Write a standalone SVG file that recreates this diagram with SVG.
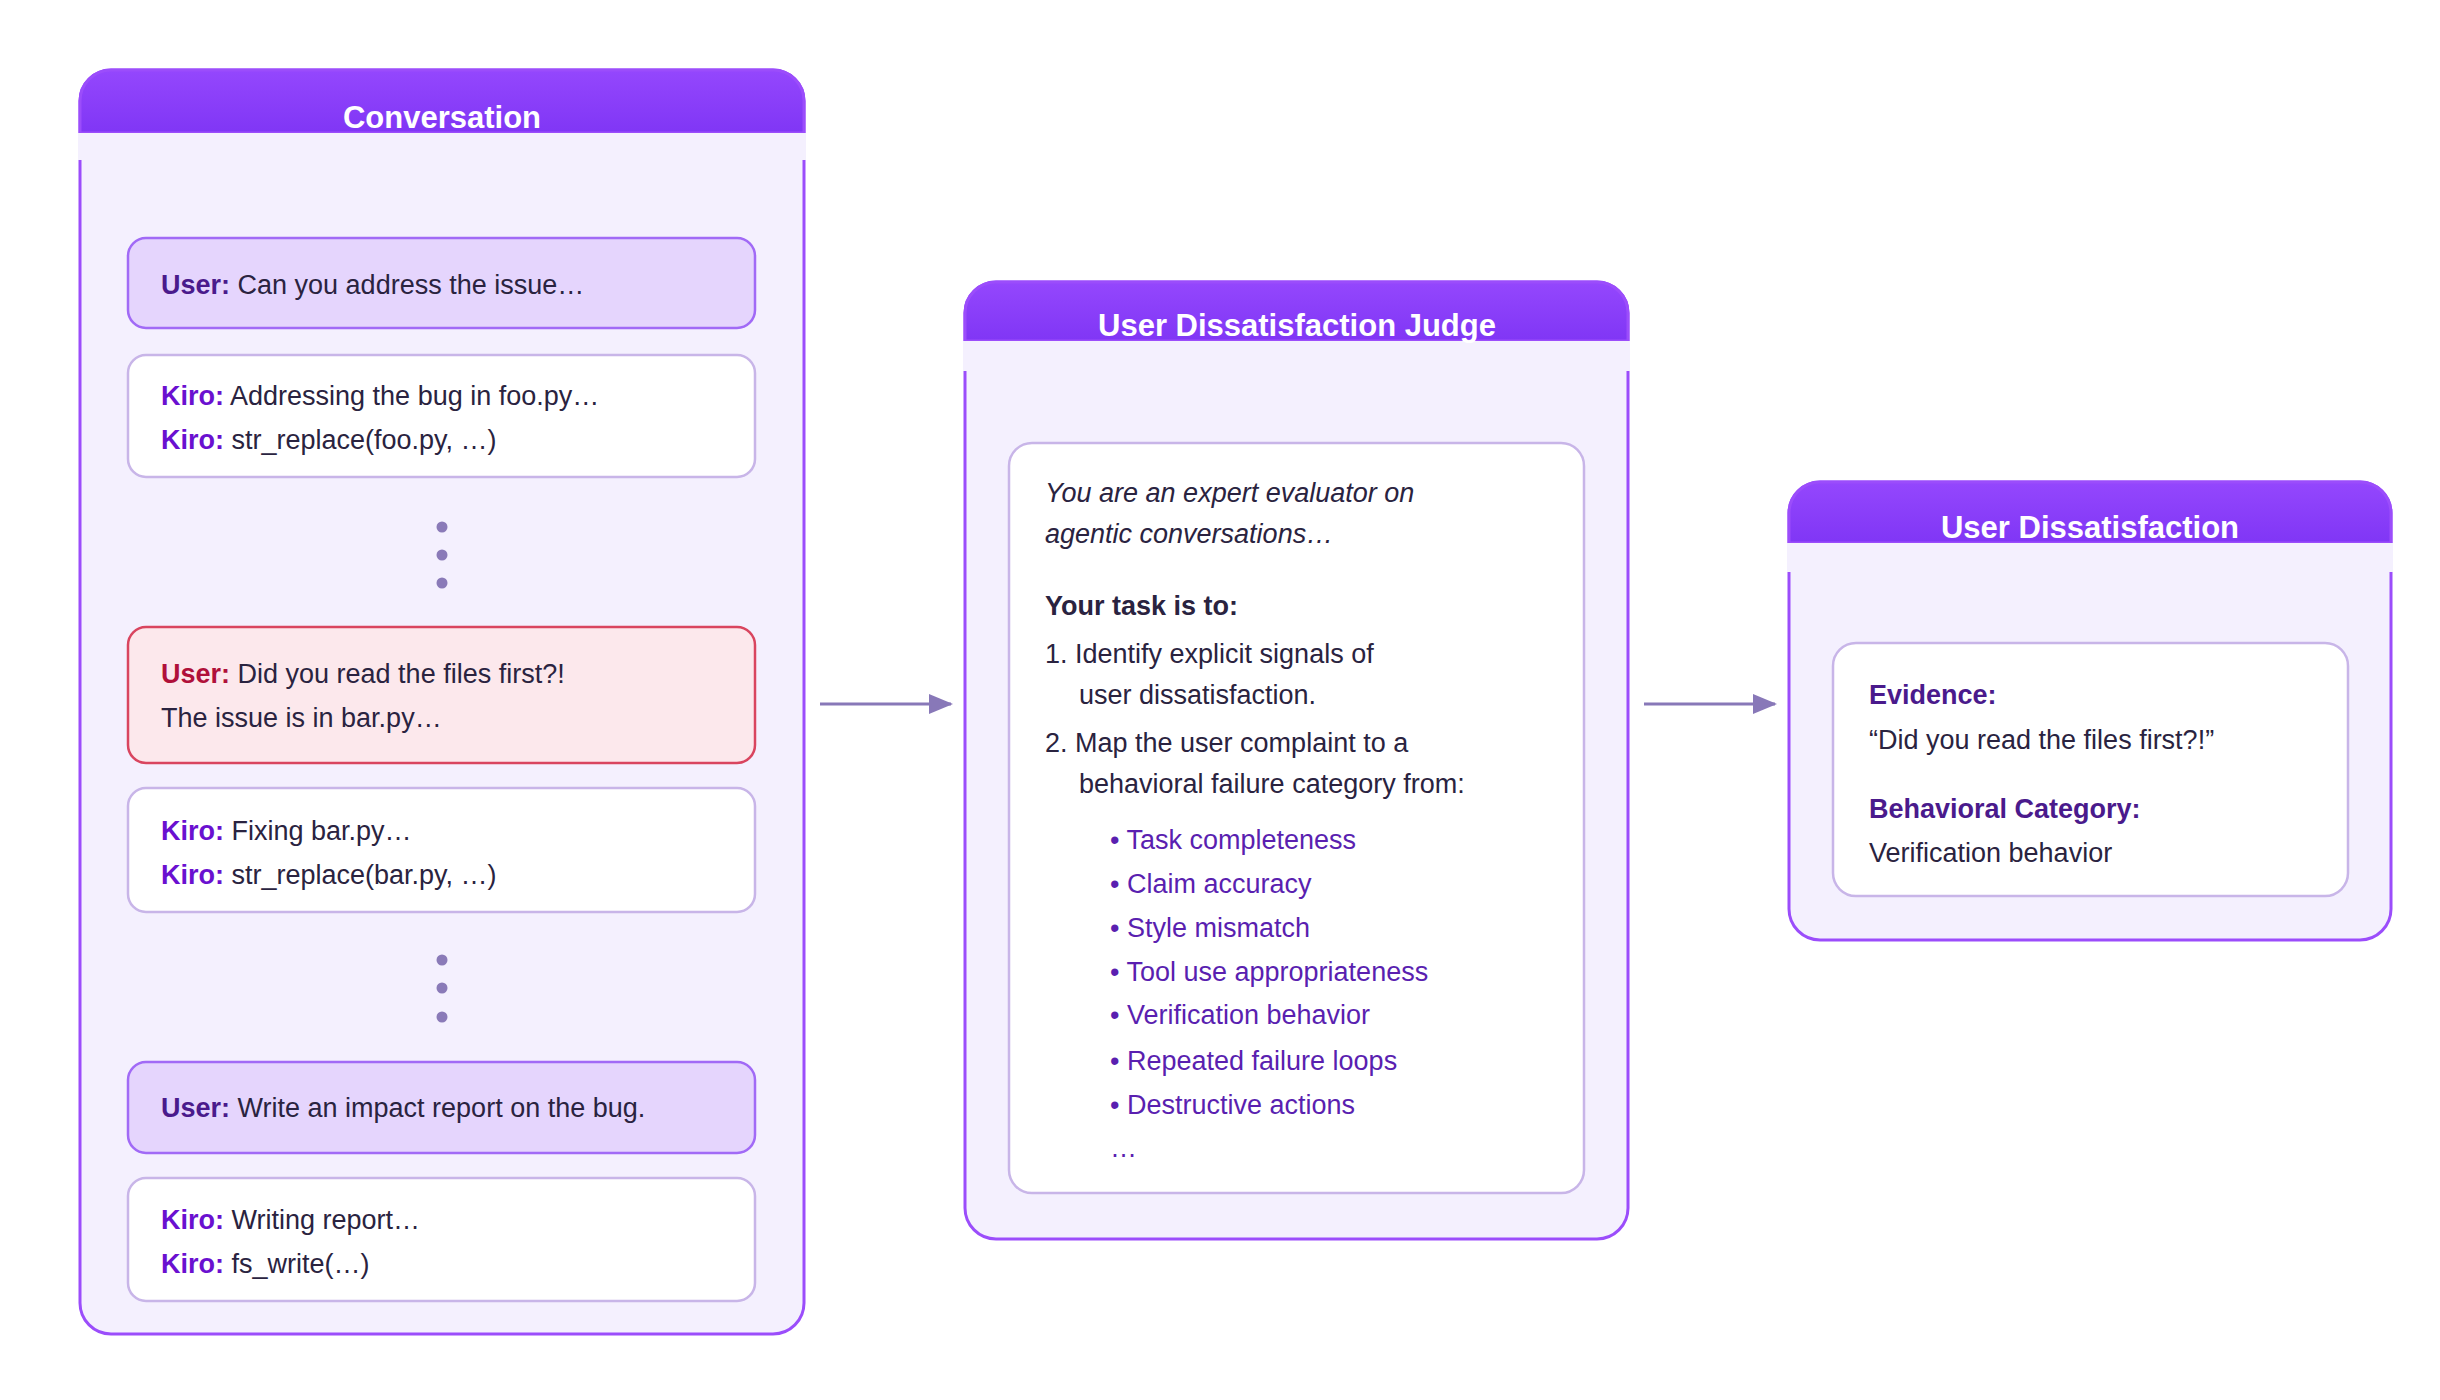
<svg xmlns="http://www.w3.org/2000/svg" width="2440" height="1400" viewBox="0 0 2440 1400">
<style>
text{font-family:"Liberation Sans",Arial,sans-serif;font-size:27px;fill:#2a2340}
.title{font-size:31px;font-weight:bold;fill:#fff;text-anchor:middle}
.u{font-weight:bold;fill:#4a1a8c}
.k{font-weight:bold;fill:#6a10d0}
.r{font-weight:bold;fill:#b0103a}
.b{fill:#5a1fb0}
.panel{fill:#f4f0fe;stroke:#9b4dfb;stroke-width:3}
.strip{fill:#f4f0fe}
.um{fill:#e5d5fd;stroke:#a16af6;stroke-width:2.5}
.km{fill:#fff;stroke:#c8b5e8;stroke-width:2.5}
.em{fill:#fce8ec;stroke:#d9455f;stroke-width:2.5}
.dot{fill:#8a7ab8}
.conn{stroke:#8878b8;stroke-width:3;fill:none}
</style>
<defs>
<linearGradient id="hg" x1="0" y1="0" x2="0" y2="1"><stop offset="0" stop-color="#9447fd"/><stop offset="1" stop-color="#8036f5"/></linearGradient>
<marker id="ah" markerWidth="24" markerHeight="20" refX="22" refY="10" orient="auto" markerUnits="userSpaceOnUse" viewBox="0 0 24 20"><path d="M0,0L24,10L0,20z" fill="#8878b8"/></marker>
</defs>
<rect width="2440" height="1400" fill="#fff"/>

<g id="conversation">
<rect class="panel" x="80" y="70" width="724" height="1264" rx="31"/>
<path d="M80,133 V101 A31,31 0 0 1 111,70 H773 A31,31 0 0 1 804,101 V133 Z" fill="url(#hg)" stroke="#9b4dfb" stroke-width="3"/>
<rect class="strip" x="78" y="133" width="728" height="27"/>
<text class="title" x="442" y="128">Conversation</text>
<g id="msg1"><rect class="um" x="128" y="238" width="627" height="90" rx="18"/>
<text x="161" y="294"><tspan class="u">User:</tspan> Can you address the issue…</text></g>
<g id="msg2"><rect class="km" x="128" y="355" width="627" height="122" rx="18"/>
<text x="161" y="405"><tspan class="k">Kiro:</tspan> Addressing the bug in foo.py…</text>
<text x="161" y="449"><tspan class="k">Kiro:</tspan> str_replace(foo.py, …)</text></g>
<circle class="dot" cx="442" cy="527" r="5.5"/><circle class="dot" cx="442" cy="555" r="5.5"/><circle class="dot" cx="442" cy="583" r="5.5"/>
<g id="msg3"><rect class="em" x="128" y="627" width="627" height="136" rx="18"/>
<text x="161" y="683"><tspan class="r">User:</tspan> Did you read the files first?!</text>
<text x="161" y="727">The issue is in bar.py…</text></g>
<g id="msg4"><rect class="km" x="128" y="788" width="627" height="124" rx="18"/>
<text x="161" y="840"><tspan class="k">Kiro:</tspan> Fixing bar.py…</text>
<text x="161" y="884"><tspan class="k">Kiro:</tspan> str_replace(bar.py, …)</text></g>
<circle class="dot" cx="442" cy="960" r="5.5"/><circle class="dot" cx="442" cy="988" r="5.5"/><circle class="dot" cx="442" cy="1017" r="5.5"/>
<g id="msg5"><rect class="um" x="128" y="1062" width="627" height="91" rx="18"/>
<text x="161" y="1117"><tspan class="u">User:</tspan> Write an impact report on the bug.</text></g>
<g id="msg6"><rect class="km" x="128" y="1178" width="627" height="123" rx="18"/>
<text x="161" y="1229"><tspan class="k">Kiro:</tspan> Writing report…</text>
<text x="161" y="1273"><tspan class="k">Kiro:</tspan> fs_write(…)</text></g>
</g>

<g id="connectors">
<line class="conn" x1="820" y1="704" x2="951" y2="704" marker-end="url(#ah)"/>
<line class="conn" x1="1644" y1="704" x2="1775" y2="704" marker-end="url(#ah)"/>
</g>

<g id="judge">
<rect class="panel" x="965" y="282" width="663" height="957" rx="31"/>
<path d="M965,341 V313 A31,31 0 0 1 996,282 H1597 A31,31 0 0 1 1628,313 V341 Z" fill="url(#hg)" stroke="#9b4dfb" stroke-width="3"/>
<rect class="strip" x="963" y="341" width="667" height="30"/>
<text class="title" x="1297" y="336">User Dissatisfaction Judge</text>
<rect class="km" x="1009" y="443" width="575" height="750" rx="23"/>
<text x="1045" y="502" font-style="italic">You are an expert evaluator on</text>
<text x="1045" y="543" font-style="italic">agentic conversations…</text>
<text x="1045" y="615" font-weight="bold">Your task is to:</text>
<text x="1045" y="663">1. Identify explicit signals of</text>
<text x="1079" y="704">user dissatisfaction.</text>
<text x="1045" y="752">2. Map the user complaint to a</text>
<text x="1079" y="793">behavioral failure category from:</text>
<text class="b" x="1110" y="849">• Task completeness</text>
<text class="b" x="1110" y="893">• Claim accuracy</text>
<text class="b" x="1110" y="937">• Style mismatch</text>
<text class="b" x="1110" y="981">• Tool use appropriateness</text>
<text class="b" x="1110" y="1024">• Verification behavior</text>
<text class="b" x="1110" y="1070">• Repeated failure loops</text>
<text class="b" x="1110" y="1114">• Destructive actions</text>
<text class="b" x="1110" y="1157">…</text>
</g>

<g id="result">
<rect class="panel" x="1789" y="482" width="602" height="458" rx="31"/>
<path d="M1789,543 V513 A31,31 0 0 1 1820,482 H2360 A31,31 0 0 1 2391,513 V543 Z" fill="url(#hg)" stroke="#9b4dfb" stroke-width="3"/>
<rect class="strip" x="1787" y="543" width="606" height="29"/>
<text class="title" x="2090" y="538">User Dissatisfaction</text>
<rect class="km" x="1833" y="643" width="515" height="253" rx="23"/>
<text class="u" x="1869" y="704">Evidence:</text>
<text x="1869" y="749">“Did you read the files first?!”</text>
<text class="u" x="1869" y="818">Behavioral Category:</text>
<text x="1869" y="862">Verification behavior</text>
</g>
</svg>
